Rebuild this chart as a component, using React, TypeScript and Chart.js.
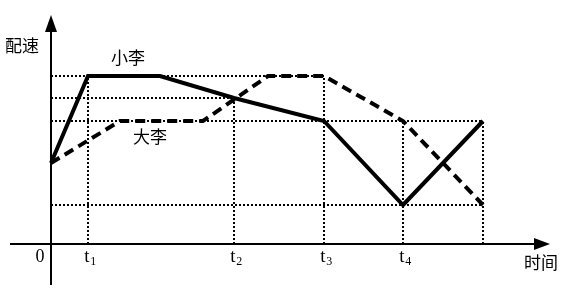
import React, { useEffect, useRef } from "react";
import { Chart, registerables } from "chart.js";

Chart.register(...registerables);

// ---- data ----
const tickNames = ["t", "t", "t", "t"];
const tickSubs = ["1", "2", "3", "4"];
const tickTimes = [3.7, 18.3, 27.3, 35.2];

const xiaoLiTime = [0, 3.7, 10.9, 18.3, 27.3, 35.2, 43.2];
const xiaoLiPace = [8.1, 16.8, 16.8, 14.6, 12.3, 3.9, 12.3];

const daLiTime = [0, 6.9, 15.2, 21.7, 27.3, 35.2, 43.2];
const daLiPace = [8.1, 12.3, 12.3, 16.8, 16.8, 12.3, 3.9];

// horizontal guide levels and how far right each reaches
const guideLevels = [16.8, 14.6, 12.3, 3.9];
const guideEnds = [27.3, 18.3, 43.2, 43.2];
// vertical guide times and how high each reaches
const vGuideTimes = [3.7, 18.3, 27.3, 35.2, 43.2];
const vGuideTops = [16.8, 14.6, 16.8, 12.3, 12.3];

const seriesNames = ["小李", "大李"];
const labelPos = [
  { x: 7.7, y: 18.6 },
  { x: 9.9, y: 10.7 },
];
const yAxisTitle = "配速";
const xAxisTitle = "时间";
const originLabel = "0";

const X_MIN = -4.1;
const X_MAX = 49.9;
const Y_MIN = -4.1;
const Y_MAX = 22.9;

const CJK = '"Noto Sans CJK SC", "Noto Sans", sans-serif';
const SERIF = '"Liberation Serif", "DejaVu Serif", serif';

const pts = (xs: number[], ys: number[]) => xs.map((x, i) => ({ x, y: ys[i] }));

const axesPlugin = {
  id: "mathAxes",
  beforeDatasetsDraw(chart: any) {
    const { ctx, chartArea, scales } = chart;
    const x0 = Math.round(scales.x.getPixelForValue(0));
    const y0 = Math.round(scales.y.getPixelForValue(0));
    ctx.save();
    ctx.strokeStyle = "#000";
    ctx.fillStyle = "#000";
    ctx.lineWidth = 2;
    // x axis
    ctx.beginPath();
    ctx.moveTo(chartArea.left, y0);
    ctx.lineTo(chartArea.right - 10, y0);
    ctx.stroke();
    ctx.beginPath();
    ctx.moveTo(chartArea.right, y0);
    ctx.lineTo(chartArea.right - 16, y0 - 6);
    ctx.lineTo(chartArea.right - 16, y0 + 6);
    ctx.closePath();
    ctx.fill();
    // y axis
    ctx.beginPath();
    ctx.moveTo(x0, chartArea.bottom);
    ctx.lineTo(x0, chartArea.top + 10);
    ctx.stroke();
    ctx.beginPath();
    ctx.moveTo(x0, chartArea.top);
    ctx.lineTo(x0 - 6, chartArea.top + 17);
    ctx.lineTo(x0 + 6, chartArea.top + 17);
    ctx.closePath();
    ctx.fill();
    ctx.restore();
  },
  afterDraw(chart: any) {
    const { ctx, chartArea, scales } = chart;
    const x0 = scales.x.getPixelForValue(0);
    const y0 = scales.y.getPixelForValue(0);
    ctx.save();
    ctx.fillStyle = "#000";
    ctx.textBaseline = "middle";
    // tick labels with subscripts
    tickTimes.forEach((t, i) => {
      const px = scales.x.getPixelForValue(t);
      ctx.font = `19px ${SERIF}`;
      ctx.textAlign = "center";
      ctx.fillText(tickNames[i], px - 1, y0 + 13);
      const w = ctx.measureText(tickNames[i]).width;
      ctx.font = `12px ${SERIF}`;
      ctx.textAlign = "left";
      ctx.fillText(tickSubs[i], px - 1 + w / 2 + 0.5, y0 + 18);
    });
    // origin
    ctx.font = `18px ${SERIF}`;
    ctx.textAlign = "center";
    ctx.fillText(originLabel, x0 - 11, y0 + 13);
    // axis titles
    ctx.font = `17px ${CJK}`;
    ctx.textAlign = "center";
    ctx.fillText(yAxisTitle, x0 - 29, scales.y.getPixelForValue(19.8));
    ctx.fillText(xAxisTitle, chartArea.right - 9, y0 + 19);
    // series labels
    seriesNames.forEach((n, i) => {
      ctx.fillText(
        n,
        scales.x.getPixelForValue(labelPos[i].x),
        scales.y.getPixelForValue(labelPos[i].y)
      );
    });
    ctx.restore();
  },
};

export default function App() {
  const ref = useRef<HTMLCanvasElement | null>(null);

  useEffect(() => {
    if (!ref.current) return;
    const dotted = {
      borderColor: "#000",
      borderWidth: 2,
      borderDash: [2, 2],
      borderCapStyle: "butt",
      pointRadius: 0,
      fill: false,
    };
    const guides: any[] = [];
    guideLevels.forEach((lv, i) => {
      guides.push({ ...dotted, data: [{ x: 0, y: lv }, { x: guideEnds[i], y: lv }] });
    });
    vGuideTimes.forEach((t, i) => {
      guides.push({ ...dotted, data: [{ x: t, y: 0 }, { x: t, y: vGuideTops[i] }] });
    });

    const chart = new Chart(ref.current, {
      type: "line",
      data: {
        datasets: [
          ...guides,
          {
            label: seriesNames[1],
            data: pts(daLiTime, daLiPace),
            borderColor: "#000",
            borderWidth: 4,
            borderDash: [10, 6],
            borderJoinStyle: "miter",
            pointRadius: 0,
            fill: false,
          },
          {
            label: seriesNames[0],
            data: pts(xiaoLiTime, xiaoLiPace),
            borderColor: "#000",
            borderWidth: 4,
            borderJoinStyle: "miter",
            pointRadius: 0,
            fill: false,
          },
        ],
      },
      options: {
        responsive: false,
        animation: false,
        layout: { padding: { left: 10, right: 15, top: 15, bottom: 10 } },
        plugins: { legend: { display: false }, tooltip: { enabled: false } },
        scales: {
          x: { type: "linear", min: X_MIN, max: X_MAX, display: false },
          y: { type: "linear", min: Y_MIN, max: Y_MAX, display: false },
        },
      },
      plugins: [axesPlugin],
    } as any);
    return () => chart.destroy();
  }, []);

  return (
    <div style={{ position: "fixed", left: 0, top: 0, width: 565, height: 295, background: "#fff" }}>
      <canvas ref={ref} width={565} height={295} />
    </div>
  );
}
